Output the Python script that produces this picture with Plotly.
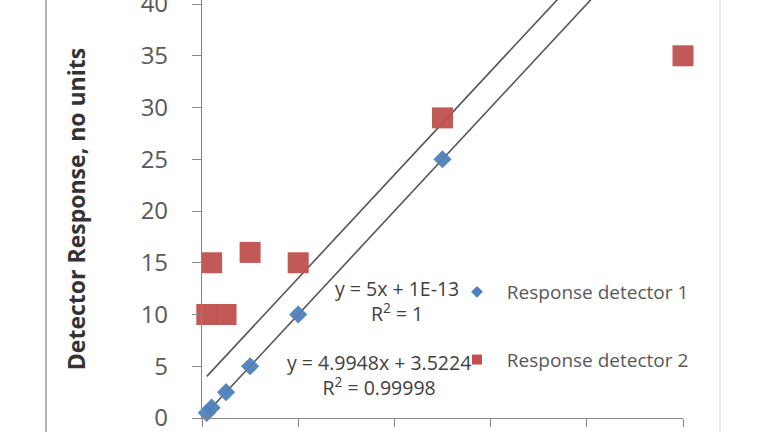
import plotly.graph_objects as go

# Data
conc = [0.1, 0.2, 0.5, 1, 2, 5]
resp1 = [0.5, 1, 2.5, 5, 10, 25]
conc2 = [0.1, 0.2, 0.5, 1, 2, 5, 10]
resp2 = [10, 15, 10, 16, 15, 29, 35]

# trendline coefficients (slope, intercept) as printed on chart
fit1 = (5.0, 1e-13)
fit2 = (4.9948, 3.5224)
fit_x = [0.1, 10]

eq1 = "y = 5x + 1E-13<br>R<sup>2</sup> = 1"
eq2 = "y = 4.9948x + 3.5224<br>R<sup>2</sup> = 0.99998"

names = ["Response detector 1", "Response detector 2"]
y_ticks = [0, 5, 10, 15, 20, 25, 30, 35, 40]
x_ticks = [0, 2, 4, 6, 8, 10]

BLUE = "#4F81BD"
RED = "#C0504D"
FONT = "Open Sans"

fig = go.Figure()

fig.add_trace(go.Scatter(
    x=fit_x, y=[fit1[0] * v + fit1[1] for v in fit_x], mode="lines",
    line=dict(color="#555555", width=1.6), showlegend=False, hoverinfo="skip"))
fig.add_trace(go.Scatter(
    x=fit_x, y=[fit2[0] * v + fit2[1] for v in fit_x], mode="lines",
    line=dict(color="#555555", width=1.6), showlegend=False, hoverinfo="skip"))

fig.add_trace(go.Scatter(
    x=conc2, y=resp2, mode="markers", showlegend=False,
    marker=dict(symbol="square", size=21, color=RED, opacity=0.95),
    cliponaxis=False))
fig.add_trace(go.Scatter(
    x=conc, y=resp1, mode="markers", showlegend=False,
    marker=dict(symbol="diamond", size=14, color=BLUE, opacity=0.95),
    cliponaxis=False))

# legend entries (small symbols as in the reference legend)
fig.add_trace(go.Scatter(
    x=[None], y=[None], mode="markers", name="\u00a0\u00a0" + names[0],
    legendgroup="a", legendrank=1,
    marker=dict(symbol="diamond", size=9, color=BLUE)))
fig.add_trace(go.Scatter(
    x=[None], y=[None], mode="markers", name="\u00a0\u00a0" + names[1],
    legendgroup="b", legendrank=2,
    marker=dict(symbol="square", size=10, color=RED)))

fig.add_annotation(x=(397 - 202) / 481, y=1 - 301 / 418, xref="paper", yref="paper",
                   xanchor="center", yanchor="middle",
                   text=eq1, showarrow=False, align="center",
                   font=dict(family=FONT, size=19.5, color="#404040"))
fig.add_annotation(x=(379 - 202) / 481, y=1 - 375 / 418, xref="paper", yref="paper",
                   xanchor="center", yanchor="middle",
                   text=eq2, showarrow=False, align="center",
                   font=dict(family=FONT, size=19.5, color="#404040"))

# chart area border lines
for px, col in [(46, "#9a9a9a"), (720, "#e6e6e6")]:
    fig.add_shape(type="line", xref="paper", yref="paper",
                  x0=(px - 202) / 481, x1=(px - 202) / 481, y0=-0.1, y1=1.1,
                  line=dict(color=col, width=1.5))

fig.update_layout(
    width=768, height=432,
    margin=dict(l=202, r=85, t=0, b=14, autoexpand=False),
    paper_bgcolor="white", plot_bgcolor="white",
    font=dict(family=FONT, color="#595959"),
    legend=dict(x=(457 - 202) / 481, y=1 - 273 / 418, xanchor="left", yanchor="top",
                font=dict(family=FONT, size=19, color="#595959"),
                tracegroupgap=40, bgcolor="rgba(0,0,0,0)"),
    xaxis=dict(range=[0, 10], tickvals=x_ticks, showticklabels=False,
               ticks="outside", ticklen=8, tickcolor="#868686",
               showline=True, linecolor="#868686", linewidth=1.2,
               showgrid=False, zeroline=False, automargin=False),
    yaxis=dict(range=[0, 40.39], tickvals=y_ticks, ticks="outside", ticklen=9,
               tickcolor="#868686", showline=True, linecolor="#868686", linewidth=1.2,
               showgrid=False, zeroline=False, ticklabeloverflow="allow",
               automargin=False,
               tickfont=dict(family=FONT, size=24, color="#595959"),
               ticklabelstandoff=19,
               title=dict(text="<b>Detector Response, no units</b>", standoff=48,
                          font=dict(family=FONT, size=23, color="#333333"))),
)

fig.write_html("out.html")
